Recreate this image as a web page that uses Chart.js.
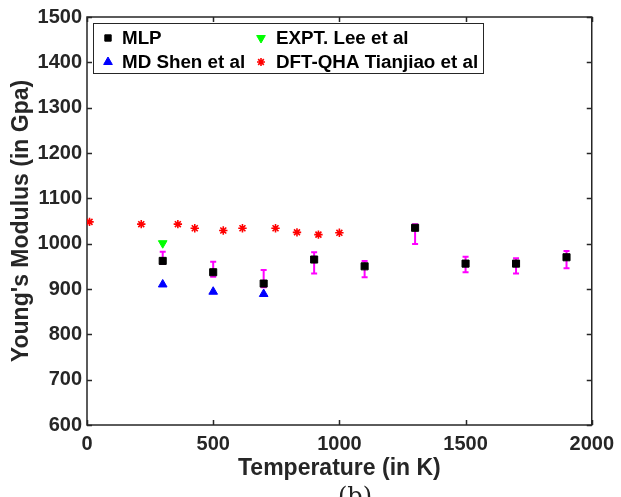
<!DOCTYPE html>
<html>
<head>
<meta charset="utf-8">
<script src="https://cdn.jsdelivr.net/npm/chart.js@4"></script>
<style>
  body { margin: 0; background: #fff; }
  #chart { display: block; }
</style>
</head>
<body>
<canvas id="chart" width="621" height="497"></canvas>
<script>
// ===== Data =====
const xTicks = [0, 500, 1000, 1500, 2000];
const yTicks = [600, 700, 800, 900, 1000, 1100, 1200, 1300, 1400, 1500];

const mlpTemps = [300, 500, 700, 900, 1100, 1300, 1500, 1700, 1900];
const mlpModulus = [962, 937, 912, 965, 950, 1035, 956, 956, 970];
const mlpErrUp = [20, 23, 30, 16, 12, 8, 15, 12, 14];
const mlpErrDown = [7, 10, 8, 31, 24, 36, 19, 22, 24];

const mdTemps = [300, 500, 700];
const mdModulus = [910, 894, 889];

const exptTemps = [300];
const exptModulus = [1001];

const dftTemps = [10, 215, 360, 427, 540, 616, 747, 832, 917, 1000];
const dftModulus = [1048, 1043, 1043, 1034, 1029, 1034, 1034, 1025, 1020, 1024];

const toPoints = (xs, ys) => xs.map((x, i) => ({ x: x, y: ys[i] }));

const FONT = "'Liberation Sans', Arial, sans-serif";
const AXIS_COLOR = '#262626';

// ===== Plugins =====
const errorBars = {
  id: 'errorBars',
  beforeDatasetsDraw(chart) {
    const ctx = chart.ctx;
    const xs = chart.scales.x, ys = chart.scales.y;
    ctx.save();
    ctx.strokeStyle = '#ff00ff';
    ctx.lineWidth = 2;
    mlpTemps.forEach((t, i) => {
      const px = xs.getPixelForValue(t);
      const top = ys.getPixelForValue(mlpModulus[i] + mlpErrUp[i]);
      const bot = ys.getPixelForValue(mlpModulus[i] - mlpErrDown[i]);
      ctx.beginPath();
      ctx.moveTo(px, top); ctx.lineTo(px, bot);
      ctx.moveTo(px - 3, top); ctx.lineTo(px + 3, top);
      ctx.moveTo(px - 3, bot); ctx.lineTo(px + 3, bot);
      ctx.stroke();
    });
    ctx.restore();
  }
};

const frame = {
  id: 'frame',
  beforeDatasetsDraw(chart) {
    const ctx = chart.ctx;
    const a = chart.chartArea;
    const xs = chart.scales.x, ys = chart.scales.y;
    ctx.save();
    ctx.strokeStyle = AXIS_COLOR;
    ctx.lineWidth = 1.5;
    ctx.strokeRect(a.left, a.top, a.right - a.left, a.bottom - a.top);
    ctx.beginPath();
    const len = 5;
    xTicks.forEach(v => {
      const px = Math.round(xs.getPixelForValue(v)) + 0.5;
      ctx.moveTo(px, a.bottom); ctx.lineTo(px, a.bottom - len);
      ctx.moveTo(px, a.top); ctx.lineTo(px, a.top + len);
    });
    yTicks.forEach(v => {
      const py = Math.round(ys.getPixelForValue(v)) + 0.5;
      ctx.moveTo(a.left, py); ctx.lineTo(a.left + len, py);
      ctx.moveTo(a.right, py); ctx.lineTo(a.right - len, py);
    });
    ctx.stroke();
    ctx.restore();
  }
};

const boxLegend = {
  id: 'boxLegend',
  afterDraw(chart) {
    const ctx = chart.ctx;
    const box = { x: 93, y: 23, w: 390, h: 50 };
    ctx.save();
    ctx.fillStyle = '#fff';
    ctx.fillRect(box.x, box.y, box.w, box.h);
    ctx.strokeStyle = AXIS_COLOR;
    ctx.lineWidth = 1;
    ctx.strokeRect(box.x + 0.5, box.y + 0.5, box.w, box.h);
    // column order like the reference: MLP, MD / EXPT, DFT
    const slots = [
      { ds: 0, mx: 108, tx: 122, y: 38 },
      { ds: 1, mx: 108, tx: 122, y: 62 },
      { ds: 2, mx: 261, tx: 276, y: 38 },
      { ds: 3, mx: 261, tx: 276, y: 62 }
    ];
    ctx.font = 'bold 18.8px ' + FONT;
    ctx.textBaseline = 'middle';
    slots.forEach(s => {
      const d = chart.data.datasets[s.ds];
      ctx.fillStyle = d.backgroundColor;
      ctx.strokeStyle = d.borderColor;
      ctx.lineWidth = d.borderWidth;
      Chart.helpers.drawPoint(ctx, {
        pointStyle: d.pointStyle,
        radius: d.legendRadius,
        rotation: d.rotation || 0,
        borderWidth: d.borderWidth
      }, s.mx, s.y);
      ctx.fillStyle = '#000';
      ctx.fillText(d.label, s.tx, s.y + 1);
    });
    // figure caption, cut off by the bottom edge as in the reference
    ctx.fillStyle = '#222';
    ctx.font = "24px 'DejaVu Serif', 'Liberation Serif', serif";
    ctx.textAlign = 'center';
    ctx.textBaseline = 'alphabetic';
    ctx.fillText('(b)', 355, 504);
    ctx.restore();
  }
};

// ===== Chart =====
const ctx = document.getElementById('chart').getContext('2d');
const chart = new Chart(ctx, {
  type: 'scatter',
  data: {
    datasets: [
      {
        label: 'MLP',
        data: toPoints(mlpTemps, mlpModulus),
        pointStyle: 'rect',
        pointRadius: 5,
        legendRadius: 4.5,
        backgroundColor: '#000',
        borderColor: '#000',
        borderWidth: 1
      },
      {
        label: 'MD Shen et al',
        data: toPoints(mdTemps, mdModulus),
        pointStyle: 'triangle',
        pointRadius: 5,
        legendRadius: 5,
        backgroundColor: '#0000ff',
        borderColor: '#0000ff',
        borderWidth: 1
      },
      {
        label: 'EXPT. Lee et al',
        data: toPoints(exptTemps, exptModulus),
        pointStyle: 'triangle',
        rotation: 180,
        pointRotation: 180,
        pointRadius: 5,
        legendRadius: 5,
        backgroundColor: '#00ff00',
        borderColor: '#00ff00',
        borderWidth: 1
      },
      {
        label: 'DFT-QHA Tianjiao et al',
        data: toPoints(dftTemps, dftModulus),
        pointStyle: 'star',
        pointRadius: 4.2,
        legendRadius: 4,
        backgroundColor: '#ff0000',
        borderColor: '#ff0000',
        borderWidth: 1.6
      }
    ]
  },
  options: {
    responsive: false,
    animation: false,
    layout: { padding: { left: 0, top: 17, right: 22, bottom: 0 } },
    plugins: {
      legend: { display: false },
      tooltip: { enabled: false }
    },
    scales: {
      x: {
        type: 'linear',
        min: 0,
        max: 2000,
        afterBuildTicks: s => { s.ticks = xTicks.map(v => ({ value: v })); },
        afterFit: s => { s.height = 72; },
        grid: { display: false, drawTicks: false },
        border: { display: false },
        ticks: {
          padding: 7,
          color: AXIS_COLOR,
          font: { family: FONT, size: 20, weight: 'bold' },
          callback: v => String(v)
        },
        title: {
          display: true,
          text: 'Temperature (in K)',
          color: AXIS_COLOR,
          font: { family: FONT, size: 23, weight: 'bold' },
          padding: { top: 0, bottom: 15 }
        }
      },
      y: {
        type: 'linear',
        min: 600,
        max: 1500,
        afterBuildTicks: s => { s.ticks = yTicks.map(v => ({ value: v })); },
        afterFit: s => { s.width = 87; },
        grid: { display: false, drawTicks: false },
        border: { display: false },
        ticks: {
          padding: 5,
          color: AXIS_COLOR,
          font: { family: FONT, size: 20, weight: 'bold' },
          callback: v => String(v)
        },
        title: {
          display: true,
          text: "Young's Modulus (in Gpa)",
          color: AXIS_COLOR,
          font: { family: FONT, size: 23, weight: 'bold' },
          padding: { top: 8, bottom: 0 }
        }
      }
    }
  },
  plugins: [frame, errorBars, boxLegend]
});
</script>
</body>
</html>
